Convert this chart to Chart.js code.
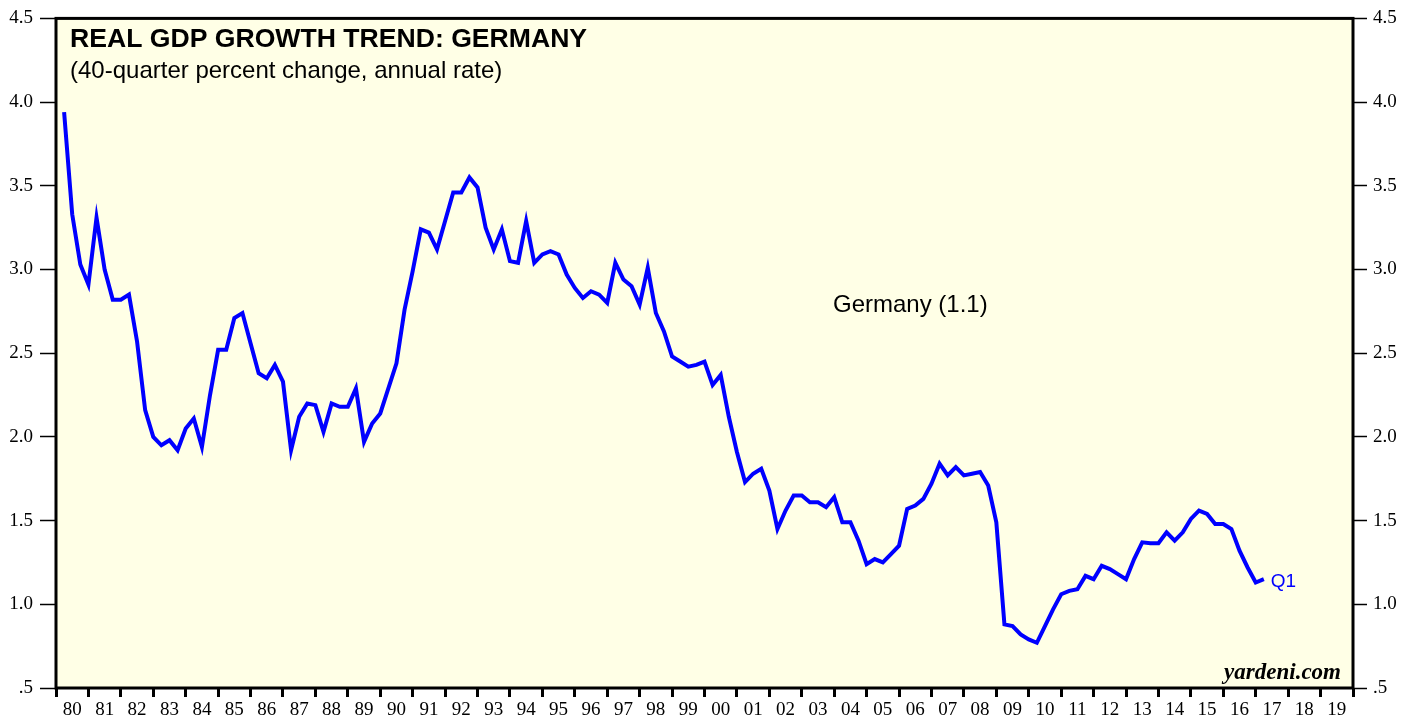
<!DOCTYPE html>
<html><head><meta charset="utf-8">
<script src="https://cdn.jsdelivr.net/npm/chart.js@4"></script>
<style>html,body{margin:0;padding:0;background:#fff;}canvas{display:block;}</style>
</head><body>
<canvas id="c" width="1417" height="719"></canvas>
<script>
const titleText = 'REAL GDP GROWTH TREND: GERMANY';
const subtitleText = '(40-quarter percent change, annual rate)';
const seriesName = 'Germany (1.1)';
const lastLabel = 'Q1';
const creditText = 'yardeni.com';

// quarterly, starting 1980 Q1, ending 2017 Q1
const firstYear = 1980;
const germany = [
  3.94, 3.33, 3.03, 2.91, 3.31, 3.00, 2.82, 2.82, 2.85, 2.57,
  2.16, 2.00, 1.95, 1.98, 1.92, 2.05, 2.11, 1.94, 2.25, 2.52,
  2.52, 2.71, 2.74, 2.56, 2.38, 2.35, 2.43, 2.33, 1.92, 2.12,
  2.20, 2.19, 2.03, 2.20, 2.18, 2.18, 2.29, 1.97, 2.08, 2.14,
  2.29, 2.44, 2.76, 2.99, 3.24, 3.22, 3.12, 3.29, 3.46, 3.46,
  3.55, 3.49, 3.25, 3.12, 3.24, 3.05, 3.04, 3.29, 3.04, 3.09,
  3.11, 3.09, 2.97, 2.89, 2.83, 2.87, 2.85, 2.80, 3.04, 2.94,
  2.90, 2.79, 3.01, 2.74, 2.63, 2.48, 2.45, 2.42, 2.43, 2.45,
  2.31, 2.37, 2.12, 1.91, 1.73, 1.78, 1.81, 1.68, 1.45, 1.56,
  1.65, 1.65, 1.61, 1.61, 1.58, 1.64, 1.49, 1.49, 1.38, 1.24,
  1.27, 1.25, 1.30, 1.35, 1.57, 1.59, 1.63, 1.72, 1.84, 1.77,
  1.82, 1.77, 1.78, 1.79, 1.71, 1.49, 0.88, 0.87, 0.82, 0.79,
  0.77, 0.87, 0.97, 1.06, 1.08, 1.09, 1.17, 1.15, 1.23, 1.21,
  1.18, 1.15, 1.27, 1.37, 1.365, 1.365, 1.43, 1.38, 1.43, 1.51,
  1.56, 1.54, 1.48, 1.48, 1.45, 1.32, 1.22, 1.13, 1.15
];

const yTickValues = [0.5, 1.0, 1.5, 2.0, 2.5, 3.0, 3.5, 4.0, 4.5];
const yTickLabels = ['.5', '1.0', '1.5', '2.0', '2.5', '3.0', '3.5', '4.0', '4.5'];
const xTickLabels = ['80','81','82','83','84','85','86','87','88','89',
  '90','91','92','93','94','95','96','97','98','99',
  '00','01','02','03','04','05','06','07','08','09',
  '10','11','12','13','14','15','16','17','18','19'];
const xMin = 1980, xMax = 2020;

const points = germany.map((v, i) => ({ x: firstYear + (i + 1) / 4, y: v }));

const tickFont = { family: 'Liberation Serif', size: 19 };

function yAxis(position, width, tickLen, pad) {
  return {
    type: 'linear', position, min: 0.5, max: 4.5,
    afterBuildTicks: s => { s.ticks = yTickValues.map(v => ({ value: v })); },
    afterFit: s => { s.width = width; },
    grid: { drawOnChartArea: false, drawTicks: true, tickLength: tickLen, tickWidth: 1.5, tickColor: '#000' },
    border: { display: false },
    ticks: {
      font: tickFont, color: '#000', padding: pad,
      callback: v => { const k = yTickValues.indexOf(v); return k >= 0 ? yTickLabels[k] : ''; }
    }
  };
}

const decor = {
  id: 'decor',
  beforeDraw(chart) {
    const { ctx, chartArea: a } = chart;
    ctx.save();
    ctx.fillStyle = '#FFFFE6';
    ctx.fillRect(a.left, a.top, a.right - a.left, a.bottom - a.top);
    ctx.restore();
  },
  afterDraw(chart) {
    const { ctx, chartArea: a } = chart;
    ctx.save();
    ctx.strokeStyle = '#000';
    ctx.lineWidth = 3;
    ctx.strokeRect(a.left, a.top, a.right - a.left, a.bottom - a.top);

    ctx.fillStyle = '#000';
    ctx.textAlign = 'left';
    ctx.textBaseline = 'alphabetic';
    ctx.font = 'bold 26.6px "Liberation Sans"';
    ctx.fillText(titleText, a.left + 14, a.top + 29);
    ctx.font = '24px "Liberation Sans"';
    ctx.fillText(subtitleText, a.left + 14, a.top + 60);

    ctx.font = '24px "Liberation Sans"';
    ctx.fillText(seriesName, 833, 312);

    // last point label
    const meta = chart.getDatasetMeta(0);
    const last = meta.data[meta.data.length - 1];
    ctx.fillStyle = '#0000FF';
    ctx.font = '19px "Liberation Sans"';
    ctx.fillText(lastLabel, last.x + 7, last.y + 8);

    ctx.fillStyle = '#000';
    ctx.textAlign = 'right';
    ctx.font = 'italic bold 23px "Liberation Serif"';
    ctx.fillText(creditText, a.right - 12, a.bottom - 9);
    ctx.restore();
  }
};

new Chart(document.getElementById('c'), {
  type: 'line',
  data: {
    datasets: [{
      label: seriesName,
      data: points,
      borderColor: '#0000FF',
      borderWidth: 4,
      pointRadius: 0,
      tension: 0,
      fill: false
    }]
  },
  options: {
    responsive: false,
    animation: false,
    layout: { padding: { top: 15, left: 0, right: 0, bottom: 0 } },
    plugins: { legend: { display: false }, tooltip: { enabled: false }, title: { display: false } },
    scales: {
      x: {
        type: 'linear', position: 'bottom', min: xMin, max: xMax,
        afterFit: s => { s.height = 31; },
        grid: { drawOnChartArea: false, drawTicks: true, tickLength: 9, tickWidth: 3, tickColor: '#000' },
        border: { display: false },
        ticks: {
          stepSize: 1, autoSkip: false, maxRotation: 0, minRotation: 0,
          font: tickFont, color: '#000', padding: 2, labelOffset: 16.2,
          callback: v => { const k = Math.round(v - xMin); return (k >= 0 && k < xTickLabels.length) ? xTickLabels[k] : ''; }
        }
      },
      y: yAxis('left', 56, 16, 7),
      y2: yAxis('right', 64, 14, 6)
    }
  },
  plugins: [decor]
});
</script>
</body></html>
